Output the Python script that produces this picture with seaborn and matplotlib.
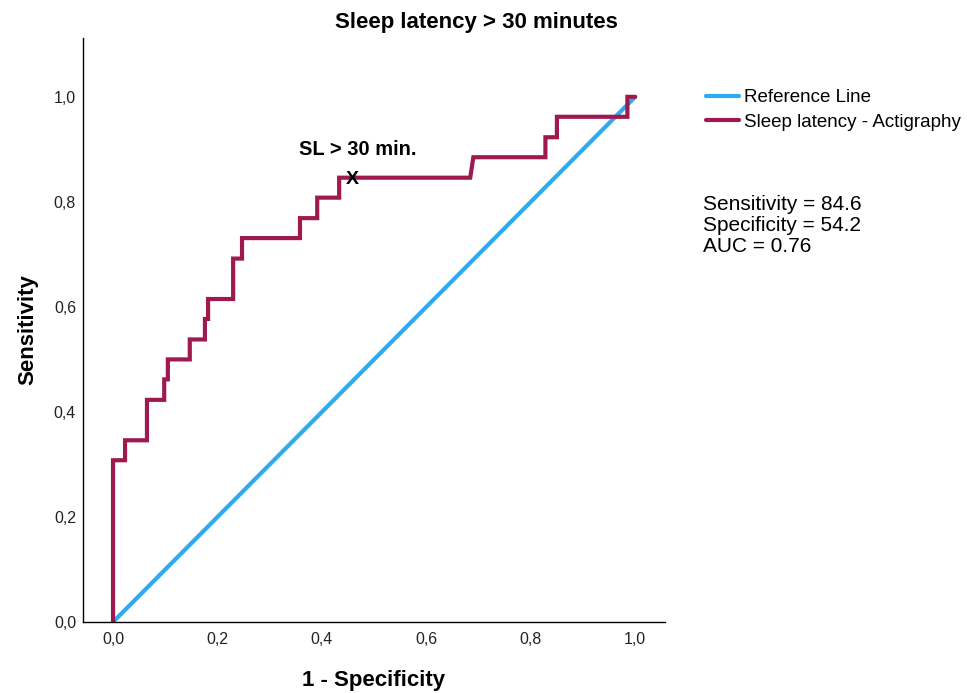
import matplotlib
matplotlib.use("Agg")
import matplotlib.pyplot as plt
import seaborn as sns
import pandas as pd
from matplotlib.lines import Line2D
from matplotlib.ticker import FixedLocator, FuncFormatter

sns.set_theme(style="white")
plt.rcParams['font.family'] = ['Liberation Sans', 'DejaVu Sans']
plt.rcParams['text.color'] = 'black'
plt.rcParams['axes.labelcolor'] = 'black'

# ROC curve (1 - specificity, sensitivity)
fpr = [0.0, 0.0, 0.023, 0.023, 0.065, 0.065, 0.098, 0.098, 0.105, 0.105,
       0.147, 0.147, 0.176, 0.176, 0.182, 0.182, 0.230, 0.230, 0.247, 0.247,
       0.358, 0.358, 0.391, 0.391, 0.433, 0.433, 0.684, 0.690, 0.828, 0.828,
       0.850, 0.850, 0.985, 0.985, 1.0]
tpr = [0.0, 0.308, 0.308, 0.346, 0.346, 0.423, 0.423, 0.462, 0.462, 0.500,
       0.500, 0.538, 0.538, 0.577, 0.577, 0.615, 0.615, 0.692, 0.692, 0.731,
       0.731, 0.769, 0.769, 0.808, 0.808, 0.846, 0.846, 0.885, 0.885, 0.923,
       0.923, 0.962, 0.962, 1.0, 1.0]
ref_x = [0.0, 1.0]
ref_y = [0.0, 1.0]

cut_fpr = 0.458
cut_tpr = 0.846
cut_label = "SL > 30 min."

ticks = [0.0, 0.2, 0.4, 0.6, 0.8, 1.0]
legend_labels = ["Reference Line", "Sleep latency - Actigraphy"]
stats_lines = ["Sensitivity = 84.6", "Specificity = 54.2", "AUC = 0.76"]
title = "Sleep latency > 30 minutes"

ref_color = "#2eaaf0"
roc_color = "#9e1a4e"

fig = plt.figure(figsize=(9.67, 6.93), dpi=100)
ax = fig.add_axes([83/967, 71/693, (665-83)/967, (622-38)/693])

roc_df = pd.DataFrame({"fpr": fpr, "tpr": tpr})
ref_df = pd.DataFrame({"x": ref_x, "y": ref_y})

sns.lineplot(data=ref_df, x="x", y="y", ax=ax, color=ref_color, lw=3.0,
             estimator=None, sort=False, solid_capstyle="butt")
sns.lineplot(data=roc_df, x="fpr", y="tpr", ax=ax, color=roc_color, lw=3.0,
             estimator=None, sort=False, solid_joinstyle="miter")

ax.text(cut_fpr, cut_tpr - 0.004, "X", ha="center", va="center", fontsize=14,
        color="black", fontweight="bold")
ax.text(cut_fpr + 0.01, 0.899, cut_label, ha="center", va="center",
        fontsize=14.5, fontweight="bold", color="black")

ax.set_xlim(-0.0575, 1.057)
ax.set_ylim(0.0, 1.112)
ax.xaxis.set_major_locator(FixedLocator(ticks))
ax.yaxis.set_major_locator(FixedLocator(ticks))
fmt = FuncFormatter(lambda v, p: f"{v:.1f}".replace(".", ","))
ax.xaxis.set_major_formatter(fmt)
ax.yaxis.set_major_formatter(fmt)
ax.tick_params(axis="both", length=0, labelsize=11.5, colors="#222222")
ax.tick_params(axis="x", pad=7)
ax.tick_params(axis="y", pad=5)
for s in ["top", "right"]:
    ax.spines[s].set_visible(False)
for s in ["left", "bottom"]:
    ax.spines[s].set_color("black")
    ax.spines[s].set_linewidth(1.0)

ax.set_xlabel("1 - Specificity", fontsize=16, fontweight="bold", labelpad=17)
ax.set_ylabel("Sensitivity", fontsize=16, fontweight="bold", labelpad=11)

fig.text(0.493, 0.967, title, ha="center", va="center", fontsize=16,
         fontweight="bold")

handles = [Line2D([], [], color=ref_color, lw=3.0),
           Line2D([], [], color=roc_color, lw=3.0)]
fig.legend(handles, legend_labels, loc="upper left",
           bbox_to_anchor=(706/967, 1 - 89/693), frameon=False, fontsize=13.5,
           handlelength=1.75, handletextpad=0.3, labelspacing=0.4,
           borderaxespad=0, borderpad=0)

for i, line in enumerate(stats_lines):
    fig.text(703/967, 1 - (204 + 21.5*i)/693, line, ha="left", va="center",
             fontsize=15)

fig.savefig("out.png", dpi=100)
